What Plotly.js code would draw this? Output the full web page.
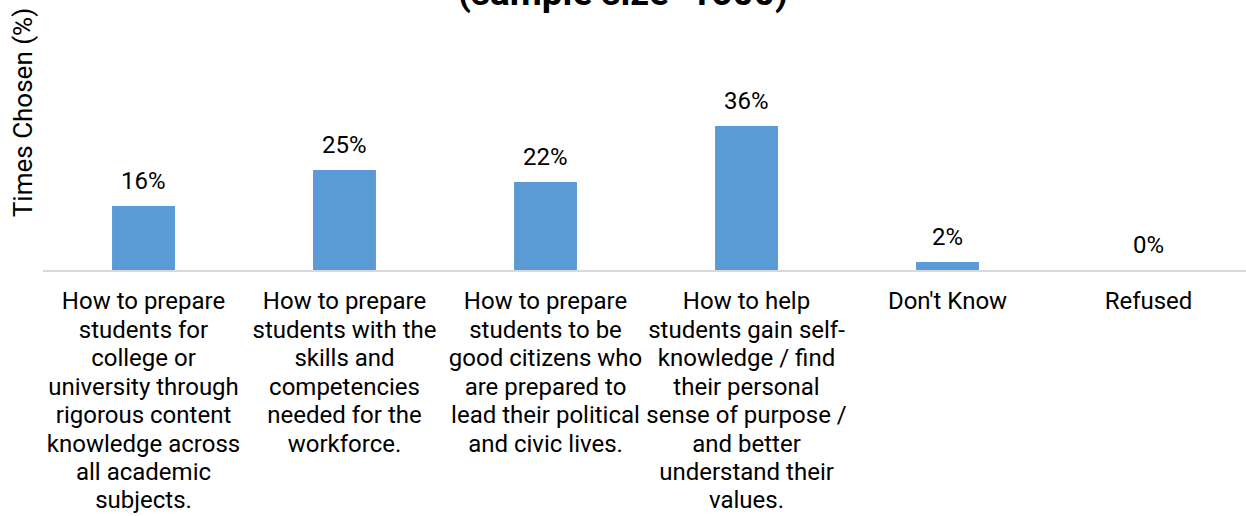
<!DOCTYPE html>
<html>
<head>
<meta charset="utf-8">
<script src="https://cdn.plot.ly/plotly-3.0.1.min.js"></script>
<style>html,body{margin:0;padding:0;background:#fff;}#chart{width:1246px;height:516px;}</style>
</head>
<body>
<div id="chart"></div>
<script>
const categories = [
  "How to prepare<br>students for<br>college or<br>university through<br>rigorous content<br>knowledge across<br>all academic<br>subjects.",
  "How to prepare<br>students with the<br>skills and<br>competencies<br>needed for the<br>workforce.",
  "How to prepare<br>students to be<br>good citizens who<br>are prepared to<br>lead their political<br>and civic lives.",
  "How to help<br>students gain self-<br>knowledge / find<br>their personal<br>sense of purpose /<br>and better<br>understand their<br>values.",
  "Don't Know",
  "Refused"
];
const values = [16, 25, 22, 36, 2, 0];
const valueLabels = ["16%", "25%", "22%", "36%", "2%", "0%"];
const titleText = "(sample size=1500)";
const yTitle = "Times Chosen (%)";

const fontFam = "Roboto, 'Liberation Sans', Arial, sans-serif";
const tickSize = 24;
const tickLineHeight = 1.185; // em, tighter than Plotly's default 1.3

const trace = {
  type: "bar",
  x: categories,
  y: values,
  marker: {color: "#5b9bd5"},
  hoverinfo: "skip"
};

const annotations = categories.map((c, i) => ({
  x: c, y: values[i], xref: "x", yref: "y",
  text: valueLabels[i], showarrow: false,
  xanchor: "center", yanchor: "bottom", yshift: 9,
  font: {family: fontFam, size: 24, color: "#000"}
}));
annotations.push({
  xref: "paper", yref: "paper", x: -0.0166, y: 0.581,
  text: yTitle, textangle: -90, showarrow: false,
  xanchor: "center", yanchor: "middle",
  font: {family: fontFam, size: 26, color: "#000"}
});

const layout = {
  width: 1246, height: 516,
  margin: {l: 43, r: 0, t: 0, b: 246, pad: 0},
  paper_bgcolor: "#fff", plot_bgcolor: "#fff",
  showlegend: false,
  bargap: 0.687,
  title: {
    text: titleText,
    font: {family: fontFam, size: 37, color: "#000", weight: "bold"},
    x: 0.5, xref: "container", xanchor: "center",
    y: 0.99, yref: "container", yanchor: "bottom"
  },
  xaxis: {
    type: "category",
    range: [-0.5, 5.485],
    showline: true, linecolor: "#d9d9d9", linewidth: 1.5,
    ticks: "", showgrid: false, zeroline: false,
    ticklabelstandoff: 9,
    tickfont: {family: fontFam, size: tickSize, color: "#000"},
    fixedrange: true
  },
  yaxis: {
    range: [0, 67.5],
    showline: false, showgrid: false, zeroline: false,
    showticklabels: false, ticks: "",
    fixedrange: true
  },
  annotations: annotations
};

function tightenTickLines(gd) {
  const lh = tickSize * tickLineHeight;
  gd.querySelectorAll(".xtick text").forEach(function (t) {
    const lines = t.querySelectorAll("tspan.line");
    if (lines.length < 2) return;
    const b0 = lines[0].getStartPositionOfChar(0).y;
    lines.forEach(function (ln, i) {
      ln.setAttribute("dy", "0");
      ln.setAttribute("y", String(b0 + i * lh));
    });
  });
}

Plotly.newPlot("chart", [trace], layout, {displayModeBar: false, staticPlot: true})
  .then(function (gd) { tightenTickLines(gd); });
</script>
</body>
</html>
